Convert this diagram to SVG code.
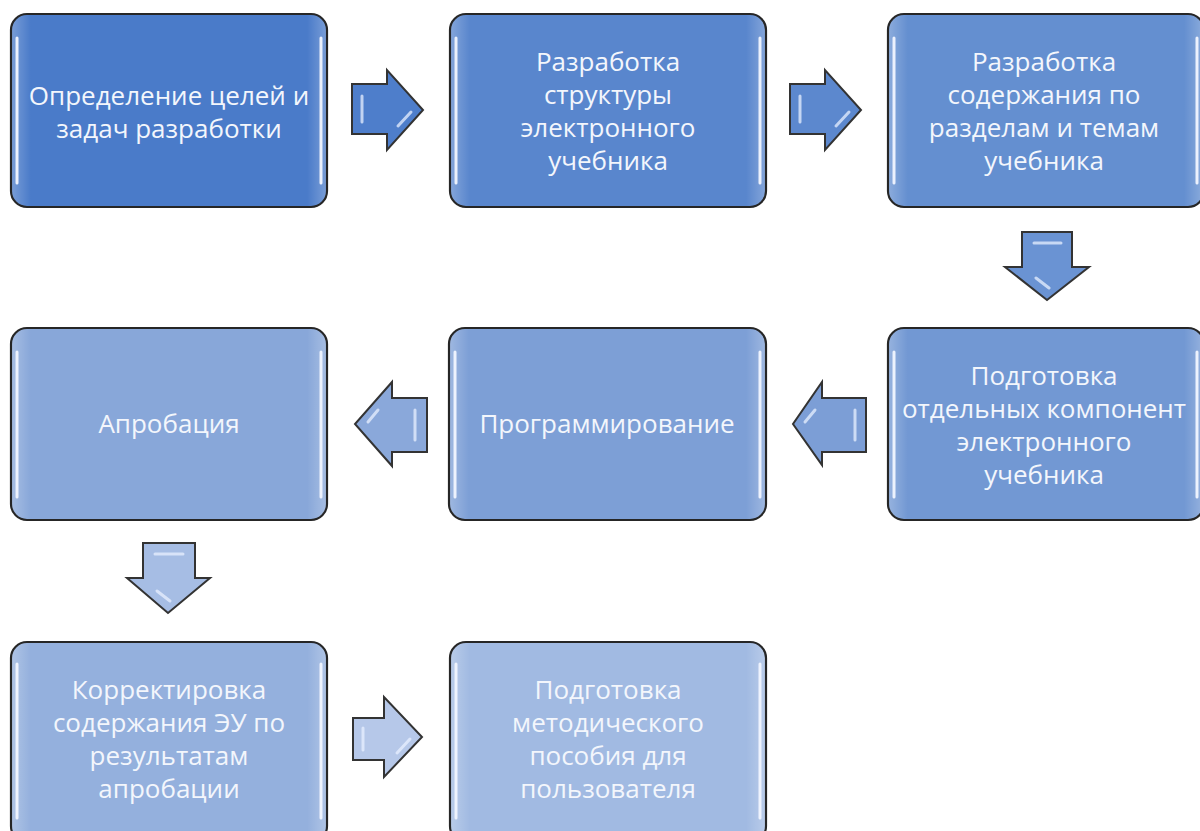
<svg xmlns="http://www.w3.org/2000/svg" width="1200" height="831" viewBox="0 0 1200 831">
<defs>
<style>
.box{stroke:#262626;stroke-width:2.2}
.hl{stroke:#f2f6ff;stroke-width:3;stroke-linecap:round;opacity:0.95}
.glow{fill:url(#edge)}
.t{font-family:"Open Sans","Noto Sans","DejaVu Sans",sans-serif;font-size:26px;fill:#f3f6fc;text-anchor:middle}
.arr{stroke:#333;stroke-width:2;stroke-linejoin:miter}
.ahl{stroke:#e8f0ff;stroke-width:3;stroke-linecap:round;fill:none;opacity:0.75}
</style>
<linearGradient id="edge" x1="0" y1="0" x2="1" y2="0">
<stop offset="0" stop-color="#ffffff" stop-opacity="0.25"/>
<stop offset="0.06" stop-color="#ffffff" stop-opacity="0"/>
<stop offset="0.94" stop-color="#ffffff" stop-opacity="0"/>
<stop offset="1" stop-color="#ffffff" stop-opacity="0.25"/>
</linearGradient>
</defs>
<rect width="1200" height="831" fill="#ffffff"/>

<g id="connectors">
<g id="a1"><path class="arr" fill="#4e7ecb" d="M352,84 H387 V70 L423,110 L387,150 V134 H352 Z"/><path class="ahl" d="M362,96 V122 M411,112 L398,126"/></g>
<g id="a2"><path class="arr" fill="#5c88ce" d="M790,84 H825 V70 L861,110 L825,150 V134 H790 Z"/><path class="ahl" d="M800,96 V122 M849,112 L836,126"/></g>
<g id="a3"><path class="arr" fill="#6a93d3" d="M1022,232 H1072 V267 H1089 L1047,300 L1005,267 H1022 Z"/><path class="ahl" d="M1034,243 H1061 M1049,288 L1036,278"/></g>
<g id="a4"><path class="arr" fill="#7c9ed6" d="M866,398 H822 V382 L793,424 L822,465 V452 H866 Z"/><path class="ahl" d="M855,410 V440 M805,422 L815,410"/></g>
<g id="a5"><path class="arr" fill="#8aa8da" d="M427,398 H392 V382 L355,424 L392,466 V452 H427 Z"/><path class="ahl" d="M415,410 V440 M368,422 L378,410"/></g>
<g id="a6"><path class="arr" fill="#a6bde4" d="M143,543 H195 V578 H210 L168,613 L127,578 H143 Z"/><path class="ahl" d="M155,554 H183 M170,601 L157,591"/></g>
<g id="a7"><path class="arr" fill="#b6c8e9" d="M353,718 H384 V697 L422,737 L384,777 V760 H353 Z"/><path class="ahl" d="M363,728 V750 M410,739 L397,753"/></g>
</g>

<g id="n1"><rect class="box" x="11" y="14" width="316" height="193" rx="16" fill="#4a7bc9"/><rect class="glow" x="12" y="15" width="314" height="191" rx="15"/><path class="hl" d="M17,38 V183 M321,38 V183"/>
<text class="t"><tspan x="169" y="105">Определение целей и</tspan><tspan x="169" y="138">задач разработки</tspan></text></g>

<g id="n2"><rect class="box" x="450" y="14" width="316" height="193" rx="16" fill="#5986cd"/><rect class="glow" x="451" y="15" width="314" height="191" rx="15"/><path class="hl" d="M456,38 V183 M760,38 V183"/>
<text class="t"><tspan x="608" y="71">Разработка</tspan><tspan x="608" y="104">структуры</tspan><tspan x="608" y="137">электронного</tspan><tspan x="608" y="170">учебника</tspan></text></g>

<g id="n3"><rect class="box" x="888" y="14" width="316" height="193" rx="16" fill="#648fd0"/><rect class="glow" x="889" y="15" width="314" height="191" rx="15"/><path class="hl" d="M894,38 V183 M1197,38 V183"/>
<text class="t"><tspan x="1044" y="71">Разработка</tspan><tspan x="1044" y="104">содержания по</tspan><tspan x="1044" y="137">разделам и темам</tspan><tspan x="1044" y="170">учебника</tspan></text></g>

<g id="n4"><rect class="box" x="888" y="328" width="316" height="192" rx="16" fill="#7298d3"/><rect class="glow" x="889" y="329" width="314" height="190" rx="15"/><path class="hl" d="M894,352 V497 M1197,352 V497"/>
<text class="t"><tspan x="1044" y="385">Подготовка</tspan><tspan x="1044" y="418">отдельных компонент</tspan><tspan x="1044" y="451">электронного</tspan><tspan x="1044" y="484">учебника</tspan></text></g>

<g id="n5"><rect class="box" x="449" y="328" width="317" height="192" rx="16" fill="#7d9fd6"/><rect class="glow" x="450" y="329" width="315" height="190" rx="15"/><path class="hl" d="M455,352 V497 M760,352 V497"/>
<text class="t"><tspan x="607" y="433">Программирование</tspan></text></g>

<g id="n6"><rect class="box" x="11" y="328" width="316" height="192" rx="16" fill="#88a7d9"/><rect class="glow" x="12" y="329" width="314" height="190" rx="15"/><path class="hl" d="M17,352 V497 M321,352 V497"/>
<text class="t"><tspan x="169" y="433">Апробация</tspan></text></g>

<g id="n7"><rect class="box" x="11" y="642" width="316" height="200" rx="16" fill="#94b0dd"/><rect class="glow" x="12" y="643" width="314" height="198" rx="15"/><path class="hl" d="M17,664 V818 M321,664 V818"/>
<text class="t"><tspan x="169" y="699">Корректировка</tspan><tspan x="169" y="732">содержания ЭУ по</tspan><tspan x="169" y="765">результатам</tspan><tspan x="169" y="798">апробации</tspan></text></g>

<g id="n8"><rect class="box" x="450" y="642" width="316" height="200" rx="16" fill="#a1bae2"/><rect class="glow" x="451" y="643" width="314" height="198" rx="15"/><path class="hl" d="M456,664 V818 M760,664 V818"/>
<text class="t"><tspan x="608" y="699">Подготовка</tspan><tspan x="608" y="732">методического</tspan><tspan x="608" y="765">пособия для</tspan><tspan x="608" y="798">пользователя</tspan></text></g>
</svg>
